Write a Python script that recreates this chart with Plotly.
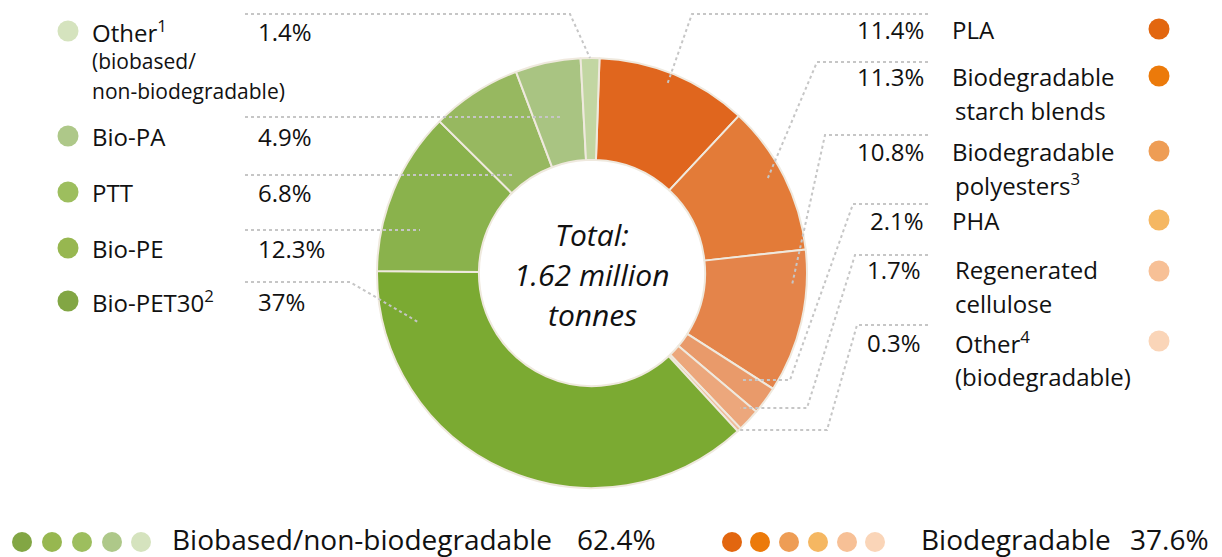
import plotly.graph_objects as go

# ---------------- data ----------------
labels = ["PLA", "Biodegradable starch blends", "Biodegradable polyesters", "PHA",
          "Regenerated cellulose", "Other (biodegradable)",
          "Bio-PET30", "Bio-PE", "PTT", "Bio-PA", "Other (biobased/non-biodegradable)"]
values = [11.4, 11.3, 10.8, 2.1, 1.7, 0.3, 37.0, 12.3, 6.8, 4.9, 1.4]
slice_colors = ["#E0661E", "#E37B38", "#E4844A", "#E99A6A", "#ECA77C", "#EFBD9B",
                "#7BAA32", "#8AB24C", "#97B860", "#A9C482", "#C2D6A2"]

left_names = ["Other<sup>1</sup>", "Bio-PA", "PTT", "Bio-PE", "Bio-PET30<sup>2</sup>"]
left_extra = {0: ["(biobased/", "non-biodegradable)"]}
left_pcts = ["1.4%", "4.9%", "6.8%", "12.3%", "37%"]
left_dot_colors = ["#D5E3BE", "#AEC889", "#9DBE5E", "#97B750", "#82A644"]

right_names = ["PLA", "Biodegradable", "Biodegradable", "PHA", "Regenerated", "Other<sup>4</sup>"]
right_extra = {1: "starch blends", 2: "polyesters<sup>3</sup>", 4: "cellulose", 5: "(biodegradable)"}
right_pcts = ["11.4%", "11.3%", "10.8%", "2.1%", "1.7%", "0.3%"]
right_dot_colors = ["#E2660F", "#EC7A0A", "#EE9D55", "#F5B762", "#F7C096", "#FAD5B8"]

group_names = ["Biobased/non-biodegradable", "Biodegradable"]
group_pcts = ["62.4%", "37.6%"]
green_legend = ["#82A644", "#97B750", "#9DBE5E", "#AEC889", "#D5E3BE"]
orange_legend = ["#E2660F", "#EC7A0A", "#EE9D55", "#F5B762", "#F7C096", "#FAD5B8"]

total_text = ["Total:", "1.62 million", "tonnes"]

# ---------------- layout constants (pixels) ----------------
W, H = 1222, 557
CX, CY, R = 592, 273, 215
FONT = "'Open Sans', Lato, sans-serif"
TXT = "#111111"

left_rows = [31, 136, 192, 248, 301]
right_rows = [29, 76, 151, 220, 269, 342]
right_extra_y = {1: 110, 2: 184, 4: 303, 5: 376}

leaders = [
    [(245, 14), (570, 14), (590, 58)],
    [(245, 117), (563, 117)],
    [(245, 175), (515, 175)],
    [(245, 230), (420, 230)],
    [(245, 282), (350, 282), (418, 322)],
    [(928, 14), (692, 14), (667, 85)],
    [(928, 62), (817, 62), (767, 180)],
    [(928, 135), (825, 135), (792, 285)],
    [(928, 204), (853, 204), (790, 380), (740, 380)],
    [(928, 255), (855, 255), (807, 408), (740, 408)],
    [(928, 325), (857, 325), (827, 430), (738, 430)],
]

fig = go.Figure()

fig.add_trace(go.Pie(
    labels=labels, values=values, sort=False, direction="clockwise", rotation=2,
    hole=0.526, marker=dict(colors=slice_colors, line=dict(color="#EFE9DE", width=2)),
    textinfo="none", hoverinfo="label+percent", showlegend=False,
    domain=dict(x=[(CX - R) / W, (CX + R) / W], y=[(H - CY - R) / H, (H - CY + R) / H]),
))

shapes = []
for pts in leaders:
    path = "M " + " L ".join(f"{x},{y}" for x, y in pts)
    shapes.append(dict(type="path", path=path, xref="x", yref="y",
                       line=dict(color="#C6C6C6", width=2, dash="dot"), layer="above"))

ann = []
def text(x, y, s, size=24, xanchor="left", italic=False):
    ann.append(dict(x=x, y=y, xref="x", yref="y", text=s, showarrow=False,
                    xanchor=xanchor, yanchor="middle",
                    font=dict(family=FONT, size=size, color=TXT,
                              style="italic" if italic else "normal")))

# left legend
fig.add_trace(go.Scatter(x=[68] * len(left_rows), y=left_rows, mode="markers",
                         marker=dict(size=21, color=left_dot_colors), hoverinfo="skip",
                         showlegend=False))
for i, (nm, pc, y) in enumerate(zip(left_names, left_pcts, left_rows)):
    text(90, y, nm)
    text(256, y, pc)
for i, lines in left_extra.items():
    for k, s in enumerate(lines):
        text(90, left_rows[i] + 30 * (k + 1), s, size=21)

# right legend
fig.add_trace(go.Scatter(x=[1159] * len(right_rows), y=[29, 76, 151, 220, 271, 341],
                         mode="markers", marker=dict(size=21, color=right_dot_colors),
                         hoverinfo="skip", showlegend=False))
for i, (nm, pc, y) in enumerate(zip(right_names, right_pcts, right_rows)):
    text(950 if i < 4 else 953, y, nm)
    text(926 if i < 4 else 923, y, pc, xanchor="right")
for i, s in right_extra.items():
    text(953, right_extra_y[i], s)

# centre text
for k, s in enumerate(total_text):
    text(CX, 234 + 40 * k, s, size=30, xanchor="center", italic=True)

# bottom legend
fig.add_trace(go.Scatter(x=[22, 52, 82, 112, 141], y=[542] * 5, mode="markers",
                         marker=dict(size=20, color=green_legend), hoverinfo="skip",
                         showlegend=False))
fig.add_trace(go.Scatter(x=[732, 760, 789, 818, 847, 875], y=[542] * 6, mode="markers",
                         marker=dict(size=20, color=orange_legend), hoverinfo="skip",
                         showlegend=False))
text(170, 539, group_names[0], size=28)
text(575, 539, group_pcts[0], size=28)
text(919, 539, group_names[1], size=28)
text(1128, 539, group_pcts[1], size=28)

fig.update_layout(
    width=W, height=H, margin=dict(l=0, r=0, t=0, b=0),
    paper_bgcolor="white", plot_bgcolor="rgba(0,0,0,0)",
    xaxis=dict(range=[0, W], visible=False, fixedrange=True),
    yaxis=dict(range=[H, 0], visible=False, fixedrange=True),
    shapes=shapes, annotations=ann,
)

fig.write_html("out.html", config={"displayModeBar": False},
               post_script="document.body.style.margin='0';document.body.style.overflow='hidden';")
